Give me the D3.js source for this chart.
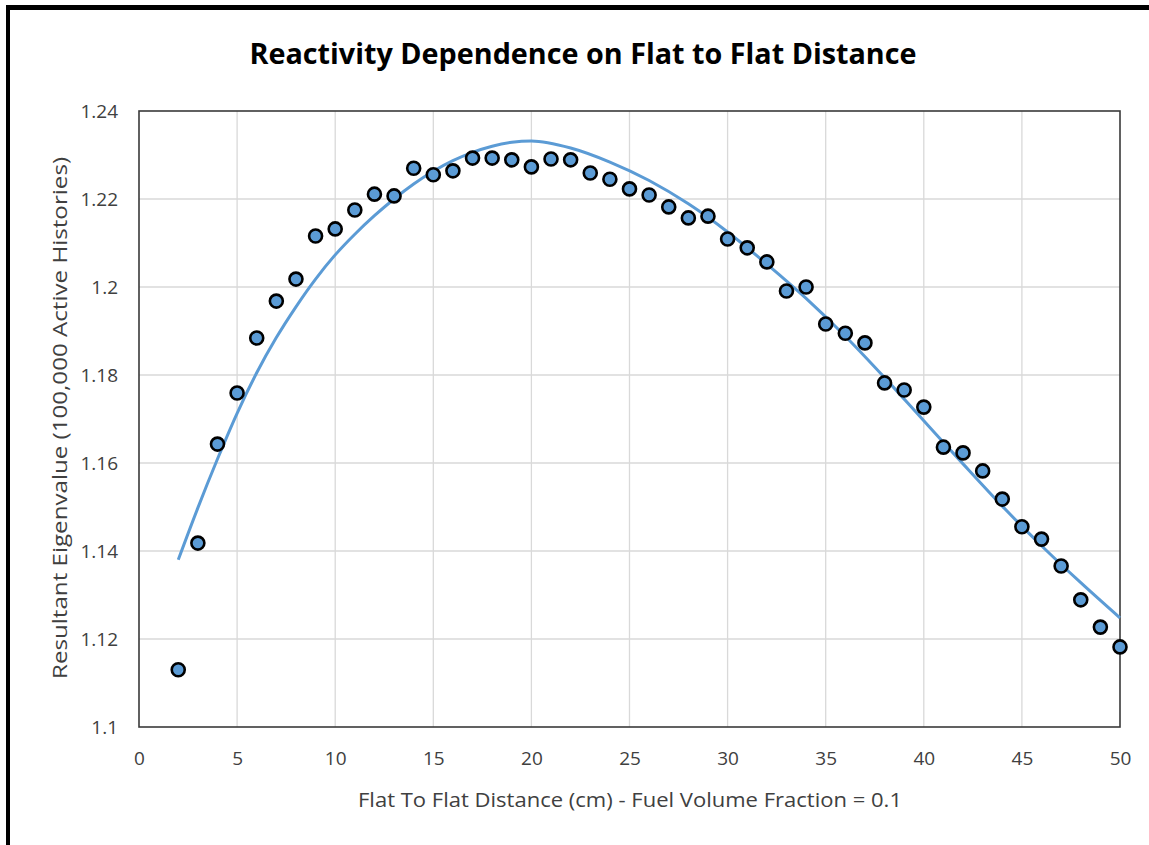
<!DOCTYPE html>
<html><head><meta charset="utf-8">
<script src="https://cdn.jsdelivr.net/npm/d3@7"></script>
<style>html,body{margin:0;padding:0;background:#fff;}svg{display:block;}</style>
</head><body>
<svg id="chart" width="1149" height="845"></svg>
<script>
const distances = [2,3,4,5,6,7,8,9,10,11,12,13,14,15,16,17,18,19,20,21,22,23,24,25,26,27,28,29,30,31,32,33,34,35,36,37,38,39,40,41,42,43,44,45,46,47,48,49,50];
const eigenvalues = [1.1130,1.1418,1.1643,1.1759,1.1884,1.1968,1.2018,1.2116,1.2132,1.2175,1.2211,1.2207,1.2270,1.2255,1.2264,1.2293,1.2293,1.2289,1.2273,1.2291,1.2289,1.2259,1.2245,1.2223,1.2209,1.2182,1.2157,1.2161,1.2109,1.2089,1.2057,1.1991,1.2000,1.1916,1.1895,1.1873,1.1782,1.1766,1.1727,1.1636,1.1623,1.1582,1.1518,1.1455,1.1427,1.1366,1.1289,1.1227,1.1182];
const trendX = [2,3,4,5,6,7,8,9,10,11,12,13,14,15,16,17,18,19,20,22,24,26,28,30,32,34,36,38,40,42,44,46,48,50];
const trendY = [1.1380,1.1498,1.1609,1.1713,1.1805,1.1885,1.1955,1.2018,1.2073,1.2120,1.2162,1.2200,1.2234,1.2263,1.2287,1.2306,1.2320,1.2329,1.2332,1.2316,1.2284,1.2242,1.2189,1.2125,1.2052,1.1974,1.1888,1.1794,1.1696,1.1598,1.1502,1.1412,1.1328,1.1248];
const xTicks = [0,5,10,15,20,25,30,35,40,45,50];
const yTicks = [1.1,1.12,1.14,1.16,1.18,1.2,1.22,1.24];
const titleText = "Reactivity Dependence on Flat to Flat Distance";
const xTitle = "Flat To Flat Distance (cm) - Fuel Volume Fraction = 0.1";
const yTitle = "Resultant Eigenvalue (100,000 Active Histories)";

const svg = d3.select("#chart");
const L = 139, R = 1120, T = 111, B = 727;
const x = d3.scaleLinear().domain([0,50]).range([L,R]);
const y = d3.scaleLinear().domain([1.1,1.24]).range([B,T]);
const font = "'Open Sans', sans-serif";

// outer frame
svg.append("line").attr("x1",8).attr("x2",1149).attr("y1",7.5).attr("y2",7.5).attr("stroke","#000").attr("stroke-width",5);
svg.append("line").attr("x1",8).attr("x2",8).attr("y1",5).attr("y2",845).attr("stroke","#000").attr("stroke-width",4);

// gridlines
svg.append("g").selectAll("line").data(xTicks.slice(1,-1)).join("line")
  .attr("x1",d=>x(d)).attr("x2",d=>x(d)).attr("y1",T).attr("y2",B)
  .attr("stroke","#d9d9d9").attr("stroke-width",1.3);
svg.append("g").selectAll("line").data(yTicks.slice(1,-1)).join("line")
  .attr("x1",L).attr("x2",R).attr("y1",d=>y(d)).attr("y2",d=>y(d))
  .attr("stroke","#d9d9d9").attr("stroke-width",1.3);

// plot border
svg.append("rect").attr("x",L).attr("y",T).attr("width",R-L).attr("height",B-T)
  .attr("fill","none").attr("stroke","#3a3a3a").attr("stroke-width",1.6);

// axes
const xAxis = svg.append("g").attr("transform",`translate(0,${B})`)
  .call(d3.axisBottom(x).tickValues(xTicks).tickSize(0).tickPadding(25).tickFormat(d3.format("d")));
const yAxis = svg.append("g").attr("transform",`translate(${L},0)`)
  .call(d3.axisLeft(y).tickValues(yTicks).tickSize(0).tickPadding(21).tickFormat(d=>String(+d.toFixed(2))));
[xAxis,yAxis].forEach(a=>{
  a.select(".domain").remove();
  a.selectAll("text").attr("font-family",font).attr("font-size",19).attr("fill","#404040");
});

// trend line
svg.append("path").datum(trendX.map((d,i)=>[d,trendY[i]]))
  .attr("d",d3.line().x(d=>x(d[0])).y(d=>y(d[1])).curve(d3.curveMonotoneX))
  .attr("fill","none").attr("stroke","#5b9bd5").attr("stroke-width",3);

// points
svg.append("g").selectAll("circle").data(distances.map((d,i)=>[d,eigenvalues[i]])).join("circle")
  .attr("cx",d=>x(d[0])).attr("cy",d=>y(d[1])).attr("r",6.5)
  .attr("fill","#5b9bd5").attr("stroke","#000").attr("stroke-width",2.6);

// titles
svg.append("text").attr("x",583).attr("y",64).attr("text-anchor","middle")
  .attr("font-family",font).attr("font-weight","bold").attr("font-size",28).attr("fill","#000")
  .attr("textLength",667).attr("lengthAdjust","spacingAndGlyphs").text(titleText);
svg.append("text").attr("x",630).attr("y",807).attr("text-anchor","middle")
  .attr("font-family",font).attr("font-size",20).attr("fill","#404040")
  .attr("textLength",544).attr("lengthAdjust","spacingAndGlyphs").text(xTitle);
svg.append("text").attr("transform","translate(67,418) rotate(-90)").attr("text-anchor","middle")
  .attr("font-family",font).attr("font-size",20).attr("fill","#404040")
  .attr("textLength",522).attr("lengthAdjust","spacingAndGlyphs").text(yTitle);
</script>
</body></html>
